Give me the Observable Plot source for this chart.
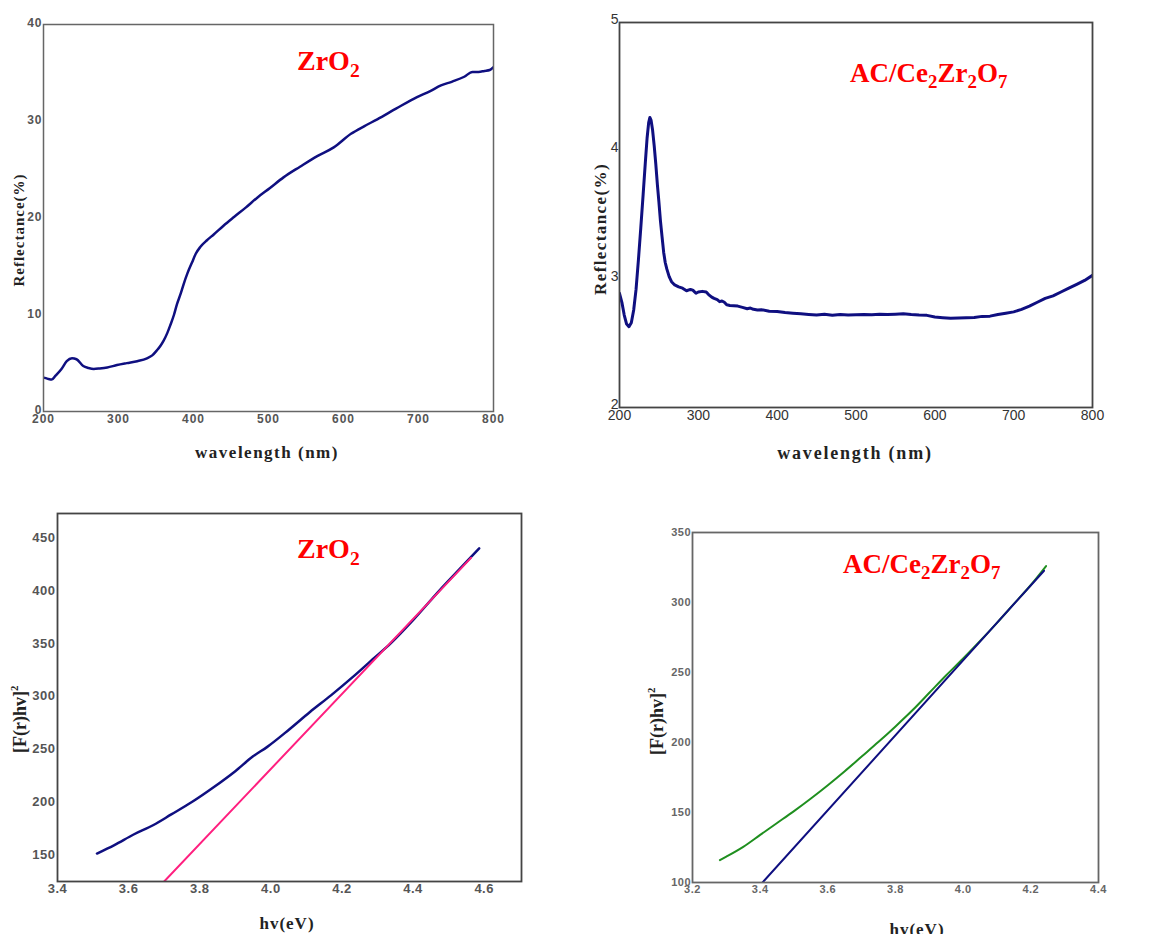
<!DOCTYPE html>
<html><head><meta charset="utf-8">
<script src="https://cdn.jsdelivr.net/npm/d3@7"></script>
<script src="https://cdn.jsdelivr.net/npm/@observablehq/plot@0.6"></script>
<style>
body{margin:0;background:#fff;}
#root{position:relative;width:1164px;height:934px;overflow:hidden;background:#fff;}
.panel{position:absolute;}
#overlay{position:absolute;left:0;top:0;pointer-events:none;}
</style></head><body><div id="root"></div>
<script>
// ---- Panel A: ZrO2 reflectance ----
const zrWavelength = [200,205,211,216,224,231,238,244,253,260,267,275,285,298,311,325,338,345,351,356,360,365,369,374,378,383,387,392,398,403,409,418,427,440,454,470,485,502,520,542,565,587,610,628,645,670,698,715,730,745,761,772,780,788,795,800];
const zrReflectance = [3.5,3.4,3.3,3.7,4.4,5.2,5.5,5.4,4.7,4.5,4.4,4.45,4.55,4.8,5.0,5.2,5.5,5.8,6.3,6.8,7.3,8.1,8.9,10.0,11.1,12.2,13.2,14.3,15.4,16.3,17.0,17.7,18.3,19.2,20.1,21.1,22.1,23.1,24.2,25.3,26.4,27.3,28.7,29.5,30.2,31.3,32.5,33.1,33.7,34.1,34.6,35.1,35.1,35.2,35.3,35.6];

// ---- Panel B: AC/Ce2Zr2O7 reflectance ----
const acWavelength = [200,203,206,209,212,215,218,221,224,227,230,233,235,237,238.5,240,242,244,246,248,250,252,254,256,258,260,263,266,270,275,280,285,290,293,297,300,305,310,313,317,320,324,327,330,333,336,340,350,356,362,366,370,375,380,390,400,410,420,430,440,450,460,470,480,490,500,510,520,530,540,550,560,570,580,590,600,610,620,630,640,650,660,670,680,690,700,710,720,730,740,750,760,770,780,790,800];
const acReflectance = [2.89,2.82,2.72,2.65,2.63,2.66,2.76,2.92,3.15,3.40,3.66,3.93,4.10,4.22,4.26,4.24,4.16,4.04,3.90,3.74,3.60,3.45,3.33,3.21,3.13,3.08,3.02,2.98,2.955,2.94,2.93,2.91,2.92,2.915,2.89,2.90,2.905,2.90,2.88,2.86,2.85,2.84,2.825,2.83,2.82,2.80,2.795,2.79,2.78,2.77,2.775,2.765,2.76,2.762,2.75,2.748,2.74,2.735,2.73,2.725,2.72,2.726,2.718,2.724,2.72,2.722,2.725,2.723,2.727,2.725,2.727,2.73,2.724,2.72,2.718,2.705,2.70,2.695,2.697,2.70,2.702,2.71,2.712,2.725,2.735,2.745,2.765,2.79,2.82,2.85,2.87,2.90,2.93,2.96,2.99,3.03];

// ---- Panel C: ZrO2 Tauc plot ----
const zrEnergy = [3.511,3.56,3.614,3.67,3.72,3.779,3.84,3.9,3.95,3.99,4.05,4.11,4.17,4.23,4.29,4.337,4.40,4.474,4.53,4.586];
const zrTauc = [151,159,169,178,188,200,214,229,243,252,268,285,301,318,336,350,372,400,420,440];
const zrFitEnergy = [3.70,4.563];
const zrFitTauc = [124.5,431];

// ---- Panel D: AC/Ce2Zr2O7 Tauc plot ----
const acEnergy = [3.281,3.3,3.35,3.4,3.45,3.5,3.55,3.6,3.65,3.7,3.75,3.8,3.85,3.9,3.95,4.0,4.05,4.1,4.15,4.2,4.245];
const acTauc = [116,118.5,125.5,134,142.5,151,160,169.5,179.5,190,200.5,211.5,223,235.5,248,260,272.5,285.5,299,312.5,326];
const acFitEnergy = [3.407,4.239];
const acFitTauc = [100,322.7];

// tick values
const reflTicksA = [0,10,20,30,40];
const wlTicks = [200,300,400,500,600,700,800];
const reflTicksB = [2,3,4,5];
const taucTicksC = [150,200,250,300,350,400,450];
const energyTicksC = [3.4,3.6,3.8,4.0,4.2,4.4,4.6];
const taucTicksD = [100,150,200,250,300,350];
const energyTicksD = [3.2,3.4,3.6,3.8,4.0,4.2,4.4];

const NAVY = "#0f0f80", PINK = "#ff1f7f", GREEN = "#1f8f1f";
const root = document.getElementById("root");

function panel(o) {
  const chart = Plot.plot({
    width: o.width, height: o.height,
    marginLeft: o.m[0], marginRight: o.m[1], marginTop: o.m[2], marginBottom: o.m[3],
    x: {domain: o.xDomain, label: null},
    y: {domain: o.yDomain, label: null},
    style: {fontFamily: "Liberation Sans, Arial, sans-serif", letterSpacing: o.ls + "px", background: "transparent", overflow: "visible"},
    marks: [
      Plot.axisX({ticks: o.xTicks, tickSize: 0, tickPadding: o.xPad, tickFormat: o.xFmt, fontSize: o.fs, color: o.tc, fontWeight: o.fw || "normal"}),
      Plot.axisY({ticks: o.yTicks, tickSize: 0, tickPadding: o.yPad, tickFormat: o.yFmt, fontSize: o.fs, color: o.tc, dy: o.yDy || 0, fontWeight: o.fw || "normal"}),
      ...o.lines.map(l => Plot.line(l.x, {x: l.x, y: l.y, stroke: l.stroke, strokeWidth: l.w, clip: true, curve: l.curve || "linear"})),
      Plot.frame({stroke: o.frame, strokeWidth: o.frameW})
    ]
  });
  chart.classList.add("panel");
  chart.style.left = o.left + "px";
  chart.style.top = o.top + "px";
  root.appendChild(chart);
}

panel({left: 0, top: 0, width: 510, height: 440, m: [43, 17, 24, 29],
  xDomain: [200, 800], yDomain: [0, 40], xTicks: wlTicks, yTicks: reflTicksA,
  xFmt: d3.format("d"), yFmt: d3.format("d"), fs: 12, ls: 1, tc: "#555", fw: "bold", xPad: 3, yPad: 1, yDy: -1,
  frame: "#666", frameW: 1.5,
  lines: [{x: zrWavelength, y: zrReflectance, stroke: NAVY, w: 2.5, curve: "monotone-x"}]});

panel({left: 580, top: 0, width: 584, height: 440, m: [39, 72, 22, 33],
  xDomain: [200, 800], yDomain: [2, 5], xTicks: wlTicks, yTicks: reflTicksB,
  xFmt: d3.format("d"), yFmt: d3.format("d"), fs: 14, ls: 0, tc: "#333", xPad: 3, yPad: 1, yDy: -3,
  frame: "#444", frameW: 1.8,
  lines: [{x: acWavelength, y: acReflectance, stroke: NAVY, w: 3}]});

panel({left: 0, top: 490, width: 560, height: 444, m: [57, 39, 23, 53],
  xDomain: [3.4, 4.705], yDomain: [124.5, 473], xTicks: energyTicksC, yTicks: taucTicksC,
  xFmt: d3.format(".1f"), yFmt: d3.format("d"), fs: 13, ls: 0.5, tc: "#555", fw: "bold", xPad: 2, yPad: 2,
  frame: "#444", frameW: 1.8,
  lines: [{x: zrEnergy, y: zrTauc, stroke: NAVY, w: 2.5, curve: "monotone-x"}, {x: zrFitEnergy, y: zrFitTauc, stroke: PINK, w: 2}]});

panel({left: 600, top: 490, width: 564, height: 444, m: [92, 66, 42, 52],
  xDomain: [3.2, 4.4], yDomain: [100, 350], xTicks: energyTicksD, yTicks: taucTicksD,
  xFmt: d3.format(".1f"), yFmt: d3.format("d"), fs: 11, ls: 0.5, tc: "#666", fw: "bold", xPad: 3, yPad: 1.5,
  frame: "#666", frameW: 1.8,
  lines: [{x: acEnergy, y: acTauc, stroke: GREEN, w: 2, curve: "monotone-x"}, {x: acFitEnergy, y: acFitTauc, stroke: NAVY, w: 2}]});

// ---- overlay: titles and axis titles ----
const svg = d3.select(root).append("svg").attr("id", "overlay").attr("width", 1164).attr("height", 934);
const SERIF = "Liberation Serif, Times New Roman, serif";

function chem(x, y, size, parts) {
  const t = svg.append("text").attr("x", x).attr("y", y).attr("fill", "#ff0000")
    .attr("font-family", SERIF).attr("font-weight", "bold").attr("font-size", size);
  let shifted = false;
  parts.forEach(p => {
    const sub = typeof p === "object";
    const s = t.append("tspan").text(sub ? p.sub : p);
    if (sub) { s.attr("font-size", size * 0.7).attr("dy", size * 0.24); shifted = true; }
    else if (shifted) { s.attr("dy", -size * 0.24); shifted = false; }
  });
}
chem(297, 70, 28, ["ZrO", {sub: "2"}]);
chem(850, 82, 27, ["AC/Ce", {sub: "2"}, "Zr", {sub: "2"}, "O", {sub: "7"}]);
chem(297, 558, 28, ["ZrO", {sub: "2"}]);
chem(843, 573, 27, ["AC/Ce", {sub: "2"}, "Zr", {sub: "2"}, "O", {sub: "7"}]);

function label(x, y, size, text, opts = {}) {
  const t = svg.append("text").attr("font-family", SERIF).attr("font-weight", "bold")
    .attr("font-size", size).attr("fill", "#222").attr("letter-spacing", (opts.ls || 0) + "px")
    .attr("text-anchor", opts.anchor || "middle")
    .attr("transform", `translate(${x},${y})` + (opts.rot ? " rotate(-90)" : ""));
  t.append("tspan").text(text);
  if (opts.sup) t.append("tspan").attr("font-size", size * 0.6).attr("dy", -size * 0.45).text(opts.sup);
}
label(267, 458, 17, "wavelength (nm)", {ls: 1.5});
label(24, 230, 15, "Reflectance(%)", {rot: true, ls: 1});
label(855, 459, 18, "wavelength (nm)", {ls: 1.8});
label(606, 229, 17, "Reflectance(%)", {rot: true, ls: 1.4});
label(287, 929, 17, "hv(eV)", {ls: 1});
label(26, 753, 18, "[F(r)hv]", {rot: true, anchor: "start", sup: "2"});
label(917, 935, 17, "hv(eV)", {ls: 1});
label(663, 755, 18, "[F(r)hv]", {rot: true, anchor: "start", sup: "2"});
</script></body></html>
